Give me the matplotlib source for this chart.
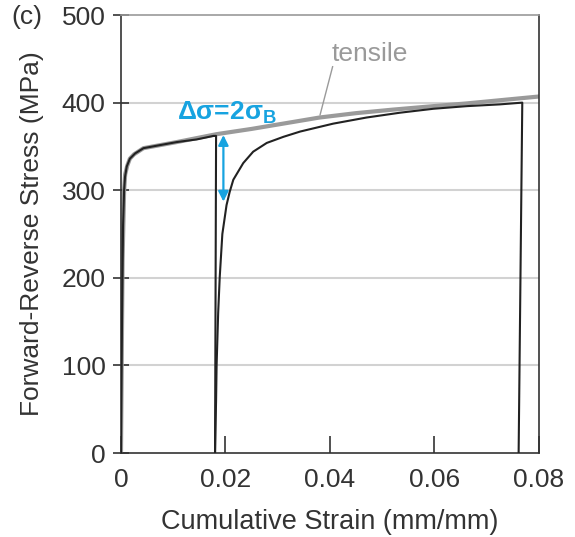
import matplotlib.pyplot as plt

# tensile reference curve (gray)
tensile_strain = [0, 0.0003, 0.0006, 0.0008, 0.0012, 0.0017, 0.0025, 0.0043, 0.0107, 0.0183,
                  0.025, 0.031, 0.038, 0.045, 0.052, 0.0598, 0.066, 0.073, 0.08]
tensile_stress = [0, 220, 300, 318, 328, 336, 341, 348, 355, 364,
                  370, 376, 383, 388, 392, 396, 399, 403, 407]

# forward loading then unloading
fwd_strain = [0, 0.0002, 0.0004, 0.0006, 0.00077, 0.0011, 0.0017, 0.0027, 0.0043, 0.007,
              0.0107, 0.0145, 0.0177, 0.0182, 0.0180]
fwd_stress = [0, 150, 260, 300, 315, 327, 336, 342, 348, 351,
              355, 358, 362, 362, 0]

# reverse loading (cumulative strain) then unloading
rev_strain = [0.0180, 0.0182, 0.0183, 0.0186, 0.0189, 0.0194, 0.0202, 0.0208, 0.0215,
              0.0234, 0.0253, 0.0279, 0.0311, 0.0343, 0.0406, 0.047, 0.0534, 0.0598,
              0.0662, 0.0725, 0.0768, 0.0761]
rev_stress = [0, 60, 100, 160, 201, 250, 283, 298, 312,
              331, 344, 354, 361, 367, 376, 383, 388.5, 393,
              396, 398, 400, 0]

x_ticks = [0, 0.02, 0.04, 0.06, 0.08]
x_labels = ['0', '0.02', '0.04', '0.06', '0.08']
y_ticks = [0, 100, 200, 300, 400, 500]

blue = '#17a3e0'
plt.rcParams['font.family'] = ['Liberation Sans', 'DejaVu Sans']
plt.rcParams['mathtext.fontset'] = 'custom'
plt.rcParams['mathtext.rm'] = 'Liberation Sans'
plt.rcParams['mathtext.bf'] = 'Liberation Sans:bold'

fig = plt.figure(figsize=(5.75, 5.37), dpi=100)
ax = fig.add_axes([0.2104, 0.1564, 0.7270, 0.8156])

for y in y_ticks[1:-1]:
    ax.axhline(y, color='#d2d2d2', lw=1.5, zorder=0)

ax.plot(tensile_strain, tensile_stress, color='#9a9a9a', lw=3, zorder=2)
ax.plot(fwd_strain, fwd_stress, color='#222222', lw=1.5, zorder=3)
ax.plot(rev_strain, rev_stress, color='#222222', lw=1.5, zorder=3)

# delta sigma arrow
ax.annotate('', xy=(0.0196, 287), xytext=(0.0196, 363),
            arrowprops=dict(arrowstyle='<|-|>', color=blue, lw=1.6, mutation_scale=15,
                            shrinkA=0, shrinkB=0))
ax.text(0.0108, 388, r'$\mathbf{\Delta\sigma}$=2$\mathbf{\sigma_B}$', color=blue,
        fontsize=19, fontweight='bold', va='center', ha='left')

# tensile label with leader line
ax.plot([0.0405, 0.0381], [441, 386], color='#9a9a9a', lw=1)
ax.text(0.0477, 456, 'tensile', color='#9a9a9a', fontsize=19, ha='center', va='center')

ax.set_xlim(0, 0.08)
ax.set_ylim(0, 500)
ax.set_xticks(x_ticks)
ax.set_xticklabels(x_labels)
ax.set_yticks(y_ticks)
ax.tick_params(axis='y', direction='inout', length=12, width=1.2, colors='#333333', labelsize=19, pad=5)
ax.tick_params(axis='x', direction='in', length=12, width=1.2, colors='#333333', labelsize=19, pad=11)

for s in ['left', 'bottom', 'right']:
    ax.spines[s].set_color('#333333')
    ax.spines[s].set_linewidth(1.2)
ax.spines['top'].set_color('#999999')
ax.spines['top'].set_linewidth(1.2)

ax.set_xlabel('Cumulative Strain (mm/mm)', fontsize=19.5, color='#333333', labelpad=12)
ax.set_ylabel('Forward-Reverse Stress (MPa)', fontsize=19, color='#333333', labelpad=13)
fig.text(0.02, 0.968, '(c)', fontsize=19, color='#333333', va='center')

fig.savefig('out.png', dpi=100)
